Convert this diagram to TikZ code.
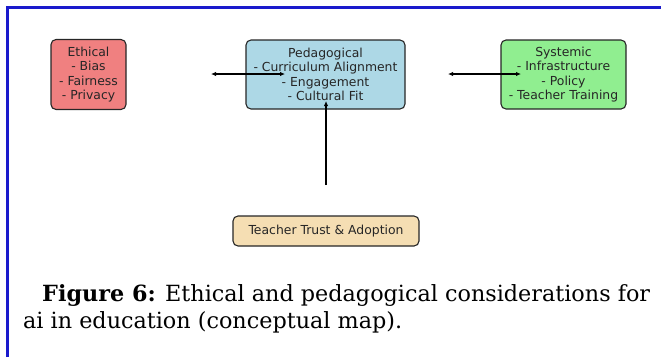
\documentclass[tikz,border=0pt]{standalone}
\usepackage{fontspec}
\setmainfont{DejaVu Serif}
\newfontfamily\boxfont{DejaVu Sans}
\usetikzlibrary{arrows.meta}
\definecolor{ethicred}{HTML}{F08080}
\definecolor{pedblue}{HTML}{ADD8E6}
\definecolor{sysgreen}{HTML}{90EE90}
\definecolor{trustwheat}{HTML}{F5DEB3}
\definecolor{frameblue}{HTML}{1A1ACC}
\definecolor{inkgray}{HTML}{262626}
\tikzset{
  box/.style={draw=inkgray, line width=1.1pt, rounded corners=5pt, align=center,
    inner sep=0pt, text=inkgray, font=\boxfont\fontsize{12.4}{14.3}\selectfont},
  link/.style={line width=1.1pt, draw=black, {Latex[length=5pt,width=4.5pt]}-{Latex[length=5pt,width=4.5pt]}},
  uplink/.style={line width=1.1pt, draw=black, -{Latex[length=5pt,width=4.5pt]}},
}
\begin{document}
\begin{tikzpicture}[x=1pt,y=-1pt]
\useasboundingbox (0,0) rectangle (661,357);
\begin{scope}
\draw[frameblue, line width=2.5pt] (7.5,357) -- (7.5,7.5) -- (661,7.5);
\end{scope}
\begin{scope}
\node (ethical) at (88.5,74.5) [box, fill=ethicred, minimum width=75pt, minimum height=70pt]
  {Ethical\\- Bias\\- Fairness\\- Privacy};
\node (pedagogical) at (325.5,74.5) [box, fill=pedblue, minimum width=159pt, minimum height=69pt]
  {Pedagogical\\- Curriculum Alignment\\- Engagement\\- Cultural Fit};
\node (systemic) at (563.5,74.5) [box, fill=sysgreen, minimum width=125pt, minimum height=69pt]
  {Systemic\\- Infrastructure\\- Policy\\- Teacher Training};
\node (trust) at (326,231) [box, fill=trustwheat, minimum width=186pt, minimum height=30pt]
  {Teacher Trust \& Adoption};
\end{scope}
\begin{scope}
\coordinate (ethicalend) at (211,74);
\coordinate (pedagogicalend) at (285,74);
\coordinate (systemicstart) at (448,74);
\coordinate (systemicend) at (521,74);
\coordinate (trustend) at (326,185);
\coordinate (fitend) at (326,101);
\draw[link] (ethicalend) -- (pedagogicalend);
\draw[link] (systemicstart) -- (systemicend);
\draw[uplink] (trustend) -- (fitend);
\end{scope}
\begin{scope}
\node (captionone) at (42,301) [anchor=base west, font=\fontsize{22.3}{27}\selectfont, inner sep=0pt]
  {\textbf{Figure 6:} Ethical and pedagogical considerations for};
\node (captiontwo) at (23,328) [anchor=base west, font=\fontsize{22.3}{27}\selectfont, inner sep=0pt]
  {ai in education (conceptual map).};
\end{scope}
\end{tikzpicture}
\end{document}
